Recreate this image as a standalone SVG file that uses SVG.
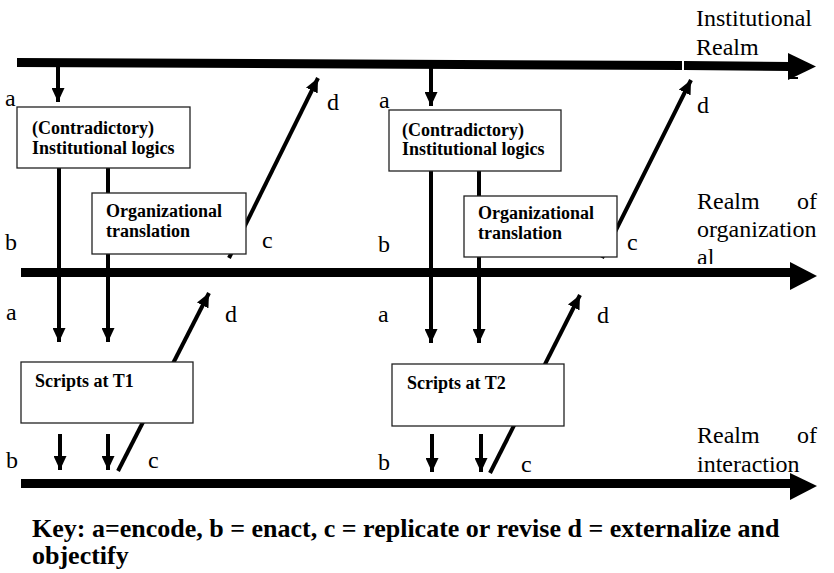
<svg xmlns="http://www.w3.org/2000/svg" width="834" height="573" viewBox="0 0 834 573">
  <style>
    .head { fill: #000; }
    .conn { stroke: #000; stroke-width: 4; fill: none; }
    .box { fill: #fff; stroke: #222; stroke-width: 1.3; }
    .boxtext { font-family: "Liberation Serif", "Times New Roman", serif; font-weight: bold; font-size: 18px; fill: #000; }
    .lbl { font-family: "Liberation Serif", "Times New Roman", serif; font-size: 24px; fill: #000; }
    .key { font-family: "Liberation Serif", "Times New Roman", serif; font-weight: bold; font-size: 26px; fill: #000; }
  </style>
  <defs>
    <marker id="tip" markerUnits="userSpaceOnUse" markerWidth="14" markerHeight="13" refX="14" refY="6.5" orient="auto">
      <path d="M0,0 L14,6.5 L0,13 z" fill="#000"/>
    </marker>
    <clipPath id="clipOrg"><rect x="690" y="240" width="140" height="24"/></clipPath>
    <clipPath id="clipInt"><rect x="690" y="450" width="140" height="23"/></clipPath>
  </defs>

  <rect width="834" height="573" fill="#fff"/>

  <!-- Realm axes -->
  <g id="realm-institutional">
    <polygon class="head" points="17,58 682,61 682,70 17,67"/>
    <polygon class="head" points="684,61 790,62 790,71 684,70"/>
    <polygon class="head" points="788,53 816,66.5 788,80"/>
    <rect class="head" x="789" y="77" width="9" height="2"/>
    <text class="lbl" x="696" y="26">Institutional</text>
    <text class="lbl" x="696" y="55">Realm</text>
  </g>
  <g id="realm-organizational">
    <rect class="head" x="21" y="268" width="771" height="9"/>
    <polygon class="head" points="790,262 817,276 790,290"/>
    <text class="lbl" x="697" y="209">Realm</text>
    <text class="lbl" x="817" y="209" text-anchor="end">of</text>
    <text class="lbl" x="697" y="237">organization</text>
    <text class="lbl" x="697" y="265" clip-path="url(#clipOrg)">al</text>
  </g>
  <g id="realm-interaction">
    <rect class="head" x="21" y="479" width="771" height="9"/>
    <polygon class="head" points="790,473 817,486 790,500"/>
    <text class="lbl" x="697" y="443">Realm</text>
    <text class="lbl" x="817" y="443" text-anchor="end">of</text>
    <text class="lbl" x="697" y="472" clip-path="url(#clipInt)">interaction</text>
  </g>

  <!-- Connectors -->
  <g id="connectors">
    <!-- encode: institutional realm to logics -->
    <line class="conn" x1="58" y1="66" x2="58" y2="102" marker-end="url(#tip)"/>
    <line class="conn" x1="431" y1="68" x2="431" y2="106" marker-end="url(#tip)"/>
    <!-- encode: logics to scripts -->
    <line class="conn" x1="59" y1="168" x2="59" y2="342" marker-end="url(#tip)"/>
    <line class="conn" x1="108" y1="168" x2="108" y2="342" marker-end="url(#tip)"/>
    <line class="conn" x1="431" y1="171" x2="431" y2="343" marker-end="url(#tip)"/>
    <line class="conn" x1="479" y1="171" x2="479" y2="343" marker-end="url(#tip)"/>
    <!-- enact: scripts to interaction -->
    <line class="conn" x1="60" y1="434" x2="60" y2="470" marker-end="url(#tip)"/>
    <line class="conn" x1="108" y1="434" x2="108" y2="470" marker-end="url(#tip)"/>
    <line class="conn" x1="432" y1="434" x2="432" y2="472" marker-end="url(#tip)"/>
    <line class="conn" x1="481" y1="434" x2="481" y2="472" marker-end="url(#tip)"/>
    <!-- replicate / externalize -->
    <line class="conn" x1="229" y1="258" x2="318" y2="78" marker-end="url(#tip)"/>
    <line class="conn" x1="602" y1="258" x2="691" y2="80" marker-end="url(#tip)"/>
    <line class="conn" x1="118" y1="471" x2="209" y2="293" marker-end="url(#tip)"/>
    <line class="conn" x1="490" y1="473" x2="580" y2="295" marker-end="url(#tip)"/>
  </g>

  <!-- Nodes -->
  <g id="logics-t1">
    <rect class="box" x="17" y="107" width="173" height="61"/>
    <text class="boxtext" x="32" y="134">(Contradictory)</text>
    <text class="boxtext" x="32" y="154">Institutional logics</text>
  </g>
  <g id="translation-t1">
    <rect class="box" x="92" y="193" width="154" height="61"/>
    <text class="boxtext" x="106" y="217">Organizational</text>
    <text class="boxtext" x="106" y="237">translation</text>
  </g>
  <g id="scripts-t1">
    <rect class="box" x="21" y="362" width="172" height="61"/>
    <text class="boxtext" x="35" y="387">Scripts at T1</text>
  </g>
  <g id="logics-t2">
    <rect class="box" x="389" y="110" width="172" height="61"/>
    <text class="boxtext" x="402" y="136">(Contradictory)</text>
    <text class="boxtext" x="402" y="155">Institutional logics</text>
  </g>
  <g id="translation-t2">
    <rect class="box" x="464" y="196" width="153" height="61"/>
    <text class="boxtext" x="478" y="219">Organizational</text>
    <text class="boxtext" x="478" y="239">translation</text>
  </g>
  <g id="scripts-t2">
    <rect class="box" x="392" y="364" width="172" height="62"/>
    <text class="boxtext" x="407" y="389">Scripts at T2</text>
  </g>

  <!-- Process labels -->
  <g id="labels">
    <text class="lbl" x="5" y="106">a</text>
    <text class="lbl" x="379" y="108">a</text>
    <text class="lbl" x="327" y="110">d</text>
    <text class="lbl" x="697" y="113">d</text>
    <text class="lbl" x="5" y="250">b</text>
    <text class="lbl" x="378" y="252">b</text>
    <text class="lbl" x="262" y="248">c</text>
    <text class="lbl" x="627" y="250">c</text>
    <text class="lbl" x="6" y="320">a</text>
    <text class="lbl" x="378" y="322">a</text>
    <text class="lbl" x="225" y="322">d</text>
    <text class="lbl" x="597" y="323">d</text>
    <text class="lbl" x="6" y="468">b</text>
    <text class="lbl" x="378" y="470">b</text>
    <text class="lbl" x="148" y="468">c</text>
    <text class="lbl" x="521" y="472">c</text>
  </g>

  <!-- Key -->
  <g id="key">
    <text class="key" x="32" y="537">Key: a=encode, b = enact, c = replicate or revise d = externalize and</text>
    <text class="key" x="32" y="564">objectify</text>
  </g>
</svg>
